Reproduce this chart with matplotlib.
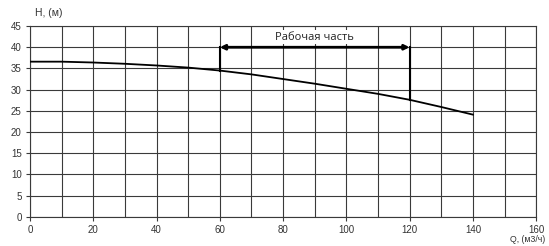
"""Pump head curve with the working range marked."""

import matplotlib.pyplot as plt

# values
Q = [0, 10, 20, 30, 40, 50, 60, 70, 80, 90, 100, 110, 120, 130, 140]
H = [36.6, 36.6, 36.4, 36.1, 35.7, 35.2, 34.5, 33.6, 32.5, 31.4, 30.2, 29.0, 27.6, 25.9, 24.1]

WORK_START, WORK_END = 60, 120
WORK_LEVEL = 40
WORK_LABEL = 'Рабочая часть'

X_TICKS = list(range(0, 161, 20))
Y_TICKS = list(range(0, 46, 5))

plt.rcParams['font.family'] = ['Liberation Sans', 'DejaVu Sans']

fig = plt.figure(figsize=(5.49, 2.46), dpi=100)
ax = fig.add_axes([0.0546, 0.119, 0.922, 0.775])

ax.set_xlim(0, 160)
ax.set_ylim(0, 45)
ax.set_xticks(X_TICKS)
ax.set_yticks(Y_TICKS)
ax.set_xticks(range(10, 160, 20), minor=True)
ax.grid(True, which='both', color='#3a3a3a', lw=0.8)
ax.tick_params(which='minor', length=0)
ax.tick_params(labelsize=7, length=3, width=0.8, color='#3a3a3a', colors='#333333', pad=3)
for s in ax.spines.values():
    s.set_color('#3a3a3a')
    s.set_linewidth(0.8)

ax.plot(Q, H, color='black', lw=1.3, zorder=3)

# working range: verticals from the curve up to the arrow
i0, i1 = Q.index(WORK_START), Q.index(WORK_END)
ax.plot([WORK_START, WORK_START], [H[i0], WORK_LEVEL], color='black', lw=1.5, zorder=3)
ax.plot([WORK_END, WORK_END], [H[i1], WORK_LEVEL], color='black', lw=1.5, zorder=3)
ax.annotate('', xy=(WORK_START, WORK_LEVEL), xytext=(WORK_END, WORK_LEVEL),
            arrowprops=dict(arrowstyle='<|-|>', color='black', lw=2, mutation_scale=7,
                            shrinkA=0, shrinkB=0), zorder=4)
ax.text((WORK_START + WORK_END) / 2, 42.4, WORK_LABEL, ha='center', va='center',
        fontsize=8, family=['Open Sans', 'DejaVu Sans'], color='#222222',
        bbox=dict(facecolor='white', edgecolor='none', pad=1))

fig.text(0.064, 0.948, 'H, (м)', fontsize=7.5, color='#333333', ha='left', va='center')
fig.text(0.993, 0.028, 'Q, (м3/ч)', fontsize=6.3, color='#333333', ha='right', va='center')

fig.savefig('out.png', dpi=100)
